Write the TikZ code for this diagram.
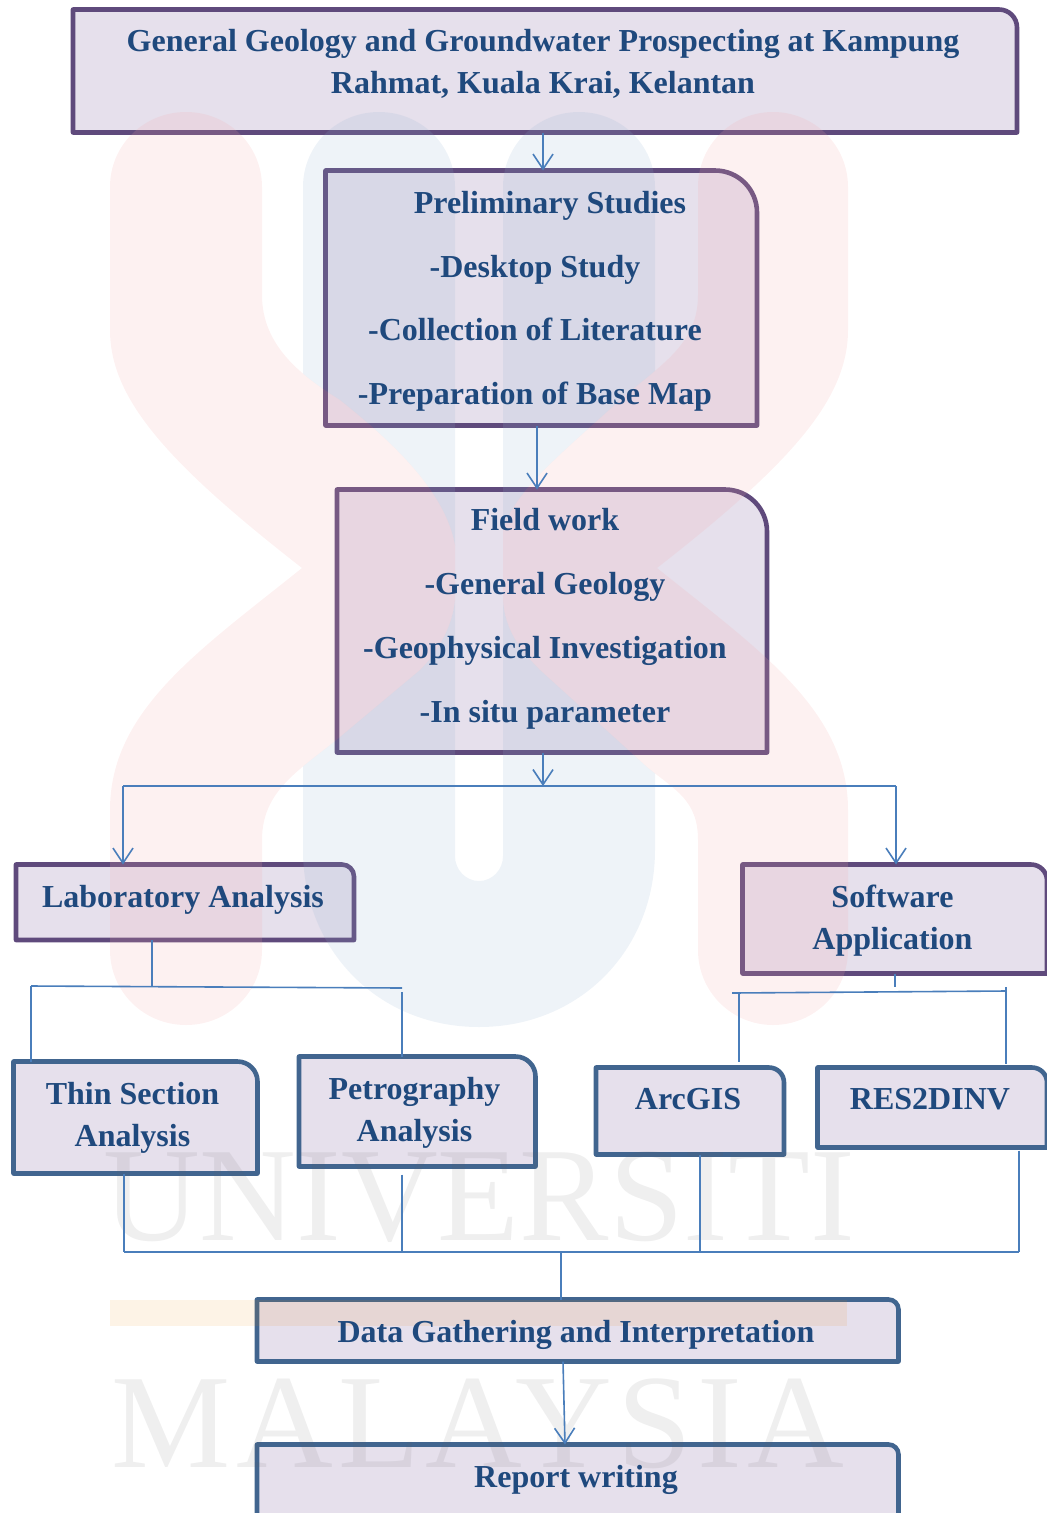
\documentclass[tikz,border=0pt]{standalone}
\usepackage{fontspec}
\setmainfont{Liberation Serif}
\newfontfamily\wmfont{Liberation Serif}
\newfontfamily\wmfontb[LetterSpace=4]{Liberation Serif}
\usetikzlibrary{arrows.meta}
\definecolor{purp}{HTML}{5F4A7C}
\definecolor{bluf}{HTML}{41658F}
\definecolor{lnk}{HTML}{4A7EBB}
\definecolor{boxf}{HTML}{E6E0EC}
\definecolor{txt}{HTML}{1F497D}
\definecolor{wred}{RGB}{245,168,168}
\definecolor{wblue}{RGB}{142,175,208}
\definecolor{wgrey}{HTML}{5F5F5F}
\definecolor{wband}{RGB}{235,135,5}
\tikzset{
  boxgeom/.style={inner sep=0pt,outer sep=0pt,rectangle},
  label/.style={inner sep=0pt,text=txt,align=center,font=\fontsize{32}{42}\selectfont\bfseries},
  link/.style={draw=lnk,line width=1.6pt},
  arrowlink/.style={link,-{Straight Barb[length=15pt,width=20pt,line width=1.6pt]}},
  wmtext/.style={inner sep=0pt,anchor=base,text=wgrey,text opacity=0.1},
}
% name, x1, y1, x2, y2, corner radius, colour
\newcommand\flowbox[7]{%
  \node[boxgeom,minimum width={(#4-#2)*1pt},minimum height={(#5-#3)*1pt}] (#1) at ({(#2+#4)/2},{(#3+#5)/2}) {};
  \path[draw=#7,fill=boxf,line width=4.6pt,line join=round]
    (#1.north west) [rounded corners=#6pt] -- (#1.north east) [sharp corners] -- (#1.south east) -- (#1.south west) -- cycle;
}
\newcommand\redshape{(110,187) .. controls (110,145) and (144,112) .. (186,112) .. controls (228,112) and (262,145) .. (262,187) -- (262,295) .. controls (262,345) and (300,375) .. (340,400) .. controls (390,440) and (445,490) .. (455,545) -- (503,530) .. controls (515,490) and (560,455) .. (620,400) .. controls (660,365) and (698,345) .. (698,295) -- (698,187) .. controls (698,145) and (732,112) .. (773,112) .. controls (814,112) and (848,145) .. (848,187) -- (848,330) .. controls (848,400) and (789,465) .. (657,568) .. controls (759,650) and (848,710) .. (848,810) -- (848,950) .. controls (848,992) and (814,1025) .. (773,1025) .. controls (732,1025) and (698,992) .. (698,950) -- (698,840) .. controls (698,800) and (675,790) .. (647,767) -- (540,670) .. controls (520,650) and (505,630) .. (503,600) -- (455,600) .. controls (452,630) and (435,655) .. (420,670) -- (340,737) .. controls (300,770) and (262,790) .. (262,840) -- (262,950) .. controls (262,992) and (228,1025) .. (186,1025) .. controls (144,1025) and (110,992) .. (110,950) -- (110,810) .. controls (110,710) and (200,650) .. (302,568) .. controls (170,465) and (110,400) .. (110,330) -- cycle}
\newcommand\channelshape{(455,100) -- (503,100) -- (503,856) .. controls (503,870) and (492,881) .. (479,881) .. controls (466,881) and (455,870) .. (455,856) -- cycle}
\begin{document}
\begin{tikzpicture}[x=1pt,y=-1pt]
\useasboundingbox (0,0) rectangle (1047,1513);
\clip (0,0) rectangle (1047,1513);
% boxes
\flowbox{title}{73}{9.5}{1017}{132.5}{18}{purp}
\flowbox{prelim}{325.5}{170.5}{757}{425.5}{42}{purp}
\flowbox{field}{337}{489.5}{767}{752.5}{42}{purp}
\flowbox{lab}{16}{864.5}{354}{940}{12}{purp}
\flowbox{soft}{742.5}{864.5}{1047}{973.5}{16}{purp}
\flowbox{thin}{13.5}{1061.5}{257.5}{1173.5}{20}{bluf}
\flowbox{petro}{299}{1056.5}{535.5}{1166.5}{20}{bluf}
\flowbox{arc}{596}{1067.5}{784}{1154.5}{15}{bluf}
\flowbox{res}{817.5}{1067.5}{1047}{1147.5}{15}{bluf}
\flowbox{data}{257}{1299.5}{898.5}{1361.5}{10}{bluf}
\flowbox{report}{257}{1444.5}{898.5}{1535}{10}{bluf}
% watermark, laid over the boxes as faint translucent shapes
\begin{scope}[even odd rule]
  \clip (0,0) rectangle (1047,1513) \redshape;
  \fill[wblue,fill opacity=0.15,nonzero rule] (303,187) .. controls (303,145) and (337,112) .. (379,112) .. controls (421,112) and (455,145) .. (455,187) -- (455,856) .. controls (455,870) and (466,881) .. (479,881) .. controls (492,881) and (503,870) .. (503,856) -- (503,187) .. controls (503,145) and (537,112) .. (579,112) .. controls (621,112) and (655,145) .. (655,187) -- (655,850) .. controls (655,950) and (580,1027) .. (479,1027) .. controls (378,1027) and (303,950) .. (303,850) -- cycle;
\end{scope}
\begin{scope}[even odd rule]
  \clip (0,0) rectangle (1047,1513) \channelshape;
  \fill[wred,fill opacity=0.16,nonzero rule] \redshape;
\end{scope}
\fill[wband,fill opacity=0.1] (110,1300) rectangle (847,1326);
\node[wmtext,font=\wmfont\fontsize{134}{134}\selectfont] (wm1) at (479,1240) {UNIVERSITI};
\node[wmtext,font=\wmfontb\fontsize{134}{134}\selectfont] (wm2) at (478,1467) {MALAYSIA};
% labels
\node[label] (titlet) at (543,63.5) {General Geology and Groundwater Prospecting at Kampung\\Rahmat, Kuala Krai, Kelantan};
\node[label] (prelimt) at (535,301.3) {\hspace*{30pt}Preliminary Studies\\[21.7pt]-Desktop Study\\[21.7pt]-Collection of Literature\\[21.7pt]-Preparation of Base Map};
\node[label] (fieldt) at (545,618.8) {Field work\\[21.7pt]-General Geology\\[21.7pt]-Geophysical Investigation\\[21.7pt]-In situ parameter};
\node[label] (labt) at (183,899.8) {Laboratory Analysis};
\node[label] (softt) at (892.5,920.8) {Software\\Application};
\node[label] (thint) at (132.5,1118) {Thin Section\\Analysis};
\node[label] (petrot) at (414.5,1113) {Petrography\\Analysis};
\node[label] (arct) at (688,1099.3) {ArcGIS};
\node[label] (rest) at (930,1099.3) {RES2DINV};
\node[label] (datat) at (576,1334.8) {Data Gathering and Interpretation};
\node[label] (reportt) at (576,1479.8) {Report writing};
% connector junctions
\coordinate (a) at (543,140);
\coordinate (b) at (537,440);
\coordinate (c) at (543,786);
\coordinate (cl) at (123,786);
\coordinate (cr) at (896,786);
\coordinate (d) at (152,986);
\coordinate (dl) at (31,986);
\coordinate (dr) at (402,988);
\coordinate (dr2) at (402,992);
\coordinate (e) at (895,987);
\coordinate (el) at (739,993);
\coordinate (el0) at (732,993);
\coordinate (er) at (1006,991);
\coordinate (er0) at (1006,987);
\coordinate (f1) at (124,1252);
\coordinate (f2) at (402,1252);
\coordinate (f3) at (700,1252);
\coordinate (f4) at (1019,1252);
\coordinate (f5) at (561,1252);
\coordinate (g1) at (563,1364);
\coordinate (g2) at (565,1444);
% connectors
\draw[arrowlink] (title.south -| a) -- (prelim.north -| a);
\draw[arrowlink] (prelim.south -| b) -- (field.north -| b);
\draw[arrowlink] (field.south -| c) -- (c);
\draw[link] (cl) -- (cr);
\draw[arrowlink] (cl) -- (lab.north -| cl);
\draw[arrowlink] (cr) -- (soft.north -| cr);
\draw[link] (lab.south -| d) -- (d);
\draw[link] (dl) -- (dr);
\draw[link] (dl) -- (thin.north -| dl);
\draw[link] (dr2) -- (petro.north -| dr2);
\draw[link] (soft.south -| e) -- (e);
\draw[link] (el0) -- (er);
\draw[link] (el) -- ([yshift=6pt]arc.north -| el);
\draw[link] (er0) -- ([yshift=4pt]res.north -| er0);
\draw[link] (f1) -- (f4);
\draw[link] (thin.south -| f1) -- (f1);
\draw[link] ([yshift=-8pt]petro.south -| f2) -- (f2);
\draw[link] (arc.south -| f3) -- (f3);
\draw[link] ([yshift=-3pt]res.south -| f4) -- (f4);
\draw[link] (f5) -- (data.north -| f5);
\draw[arrowlink] (data.south -| g1) -- (report.north -| g2);
\end{tikzpicture}
\end{document}
